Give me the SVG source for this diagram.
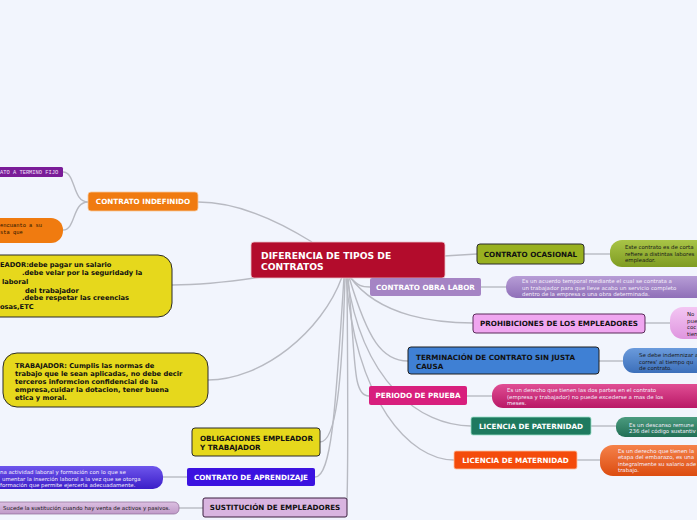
<svg xmlns="http://www.w3.org/2000/svg" width="697" height="520" viewBox="0 0 697 520">
<defs>
<linearGradient id="gGreen" x1="0" y1="0" x2="0" y2="1"><stop offset="0" stop-color="#a9c447"/><stop offset="1" stop-color="#7f9c22"/></linearGradient>
<linearGradient id="gLav" x1="0" y1="0" x2="0" y2="1"><stop offset="0" stop-color="#b79dd6"/><stop offset="1" stop-color="#8f6fb8"/></linearGradient>
<linearGradient id="gPink" x1="0" y1="0" x2="0" y2="1"><stop offset="0" stop-color="#f3c6f3"/><stop offset="1" stop-color="#df95df"/></linearGradient>
<linearGradient id="gBlue" x1="0" y1="0" x2="0" y2="1"><stop offset="0" stop-color="#6b9bdc"/><stop offset="1" stop-color="#3c6fba"/></linearGradient>
<linearGradient id="gMag" x1="0" y1="0" x2="0" y2="1"><stop offset="0" stop-color="#e04e94"/><stop offset="1" stop-color="#b91866"/></linearGradient>
<linearGradient id="gTeal" x1="0" y1="0" x2="0" y2="1"><stop offset="0" stop-color="#4b9b7f"/><stop offset="1" stop-color="#226f55"/></linearGradient>
<linearGradient id="gOr" x1="0" y1="0" x2="0" y2="1"><stop offset="0" stop-color="#f5824a"/><stop offset="1" stop-color="#dc4c10"/></linearGradient>
<linearGradient id="gVio" x1="0" y1="0" x2="0" y2="1"><stop offset="0" stop-color="#6e56ec"/><stop offset="1" stop-color="#3b1dc8"/></linearGradient>
<linearGradient id="gLil" x1="0" y1="0" x2="0" y2="1"><stop offset="0" stop-color="#dcc0e2"/><stop offset="1" stop-color="#c09ac8"/></linearGradient>
</defs>
<style>
.conn path{fill:none;stroke:#b8bac2;stroke-width:1.4}
.t{font-family:"DejaVu Sans",Verdana,sans-serif;font-weight:bold;font-size:7.2px}
.tw{fill:#ffffff}
.tb{fill:#111111}
.d{font-family:"DejaVu Sans",Verdana,sans-serif;font-size:5.45px}
.dl{fill:#f4eefa}
.dd{fill:#1a1a1a}
.y{font-family:"DejaVu Sans",Verdana,sans-serif;font-weight:bold;font-size:6.7px;fill:#111}
.m{font-family:"Liberation Mono","DejaVu Sans Mono",monospace;font-size:5.4px}
</style>
<rect x="0" y="0" width="697" height="520" fill="#f2f5fd"/>

<g id="connectors" class="conn">
<path d="M444,256 L477,254"/>
<path d="M350,277 C358,286 362,287 370,287"/>
<path d="M350,277 C380,318 440,323 473,323"/>
<path d="M349,277 C368,340 382,361 408,361"/>
<path d="M348,277 C356,360 352,396 369,396"/>
<path d="M347,277 C362,382 420,426 471,426"/>
<path d="M346,277 C356,402 410,460 454,460"/>
<path d="M345,277 C342,385 336,442 320,442"/>
<path d="M344,277 C336,402 332,477 315,477"/>
<path d="M347,277 C348,400 348,470 347,500"/>
<path d="M342,277 C322,332 262,380 208,380"/>
<path d="M268,276 C230,282 200,285 172,285"/>
<path d="M312,242 C280,222 240,202 198,202"/>
<path d="M88,202 C72,202 76,172 63,172"/>
<path d="M88,202 C72,202 76,230 63,230"/>
<path d="M583,254 L610,254"/>
<path d="M481,287 L506,287"/>
<path d="M645,323 L670,323"/>
<path d="M599,361 L623,361"/>
<path d="M467,396 L492,396"/>
<path d="M591,426 L616,426"/>
<path d="M577,460 L600,460"/>
<path d="M163,477 L187,477"/>
<path d="M179,508 L203,508"/>
</g>

<g id="central">
<rect x="251" y="242" width="194" height="36" rx="3" fill="#b30c2c" stroke="#e8c0c8" stroke-width="0.8"/>
<text x="261" y="258.5" font-family="DejaVu Sans,Verdana,sans-serif" font-weight="bold" font-size="9.2" fill="#fff">DIFERENCIA DE TIPOS DE</text>
<text x="261" y="269.5" font-family="DejaVu Sans,Verdana,sans-serif" font-weight="bold" font-size="9.2" fill="#fff">CONTRATOS</text>
</g>

<g id="contrato-indefinido">
<rect x="88" y="192" width="110" height="19" rx="3" fill="#f07b10" stroke="#f8c89a" stroke-width="0.8"/>
<text class="t tw" x="143" y="204" text-anchor="middle">CONTRATO INDEFINIDO</text>
</g>
<g id="termino-fijo">
<rect x="-6" y="167" width="69" height="10" rx="1.5" fill="#7a1c98"/>
<text class="m" x="0" y="174" fill="#f0e0f8">ATO A TERMINO FIJO</text>
</g>
<g id="indefinido-desc">
<rect x="-20" y="218" width="83" height="25" rx="12" fill="#f07b10"/>
<text class="m" x="0" y="227" fill="#2a1500">encuanto a su</text>
<text class="m" x="0" y="234" fill="#2a1500">sta que</text>
</g>

<g id="obligacion-empleador">
<rect x="-20" y="255" width="192" height="62" rx="14" fill="#e6d81c" stroke="#2a2a2a" stroke-width="1"/>
<text class="y" x="0" y="267">EADOR:debe pagar un salario</text>
<text class="y" x="22" y="275">.debe velar por la seguridady la</text>
<text class="y" x="2" y="283.5">laboral</text>
<text class="y" x="25" y="292.5">del trabajador</text>
<text class="y" x="22" y="300">.debe respetar las creencias</text>
<text class="y" x="0" y="308.5">osas,ETC</text>
</g>

<g id="obligacion-trabajador">
<rect x="3" y="353" width="205" height="54" rx="14" fill="#e6d81c" stroke="#2a2a2a" stroke-width="1"/>
<text class="y" x="15" y="367.5">TRABAJADOR: Cumplis las normas de</text>
<text class="y" x="15" y="375.5">trabajo que le sean aplicadas, no debe decir</text>
<text class="y" x="15" y="383.5">terceros informcion confidencial de la</text>
<text class="y" x="15" y="392">empresa,cuidar la dotacion, tener buena</text>
<text class="y" x="15" y="400">etica y moral.</text>
</g>

<g id="obligaciones">
<rect x="192" y="428" width="128" height="28" rx="3" fill="#e6d81c" stroke="#2a2a2a" stroke-width="1"/>
<text class="t tb" x="200" y="441">OBLIGACIONES EMPLEADOR</text>
<text class="t tb" x="200" y="450"> Y TRABAJADOR</text>
</g>

<g id="contrato-aprendizaje">
<rect x="187" y="468" width="128" height="18" rx="2" fill="#3b12e0"/>
<text class="t tw" x="251" y="479.6" text-anchor="middle">CONTRATO DE APRENDIZAJE</text>
</g>
<g id="aprendizaje-desc">
<rect x="-20" y="466" width="183" height="23" rx="10" fill="url(#gVio)"/>
<text class="d dl" x="0" y="474">na actividad laboral y formación con lo que se</text>
<text class="d dl" x="2" y="480.5">umentar la inserción laboral a la vez que se otorga</text>
<text class="d dl" x="0" y="487">formación que permite ejercerla adecuadamente.</text>
</g>

<g id="sustitucion">
<rect x="203" y="498" width="144" height="19" rx="2" fill="#d9b5e0" stroke="#3a1f3e" stroke-width="1"/>
<text class="t tb" x="275" y="510" text-anchor="middle">SUSTITUCIÓN DE EMPLEADORES</text>
</g>
<g id="sustitucion-desc">
<rect x="-10" y="502" width="189" height="12" rx="5" fill="url(#gLil)" stroke="#8e6a96" stroke-width="0.7"/>
<text class="d dd" x="3" y="510">Sucede la sustitución cuando hay venta de activos y pasivos.</text>
</g>

<g id="contrato-ocasional">
<rect x="477" y="244" width="107" height="20" rx="3" fill="#99b120" stroke="#2a2a2a" stroke-width="1"/>
<text class="t tb" x="530.5" y="256.6" text-anchor="middle">CONTRATO OCASIONAL</text>
</g>
<g id="ocasional-desc">
<rect x="610" y="240" width="100" height="27" rx="12" fill="url(#gGreen)"/>
<text class="d dd" x="625" y="249">Este contrato es de corta</text>
<text class="d dd" x="625" y="255.5">refiere a distintas labores</text>
<text class="d dd" x="625" y="262">empleador.</text>
</g>

<g id="contrato-obra-labor">
<rect x="370" y="278" width="111" height="18" rx="2" fill="#a584c4"/>
<text class="t tw" x="425.5" y="289.6" text-anchor="middle">CONTRATO OBRA LABOR</text>
</g>
<g id="obra-labor-desc">
<rect x="506" y="276" width="200" height="22" rx="10" fill="url(#gLav)"/>
<text class="d dl" x="522" y="283">Es un acuerdo temporal mediante el cual se contrata a</text>
<text class="d dl" x="522" y="289.5">un trabajador para que lleve acabo un servicio completo</text>
<text class="d dl" x="522" y="296">dentro de la empresa o una obra determinada.</text>
</g>

<g id="prohibiciones">
<rect x="473" y="314" width="172" height="19" rx="3" fill="#f0a6f0" stroke="#5a2a5a" stroke-width="1"/>
<text class="t tb" x="559" y="326" text-anchor="middle">PROHIBICIONES DE LOS EMPLEADORES</text>
</g>
<g id="prohibiciones-desc">
<rect x="670" y="307" width="40" height="32" rx="13" fill="url(#gPink)"/>
<text class="d dd" x="687" y="316">No</text>
<text class="d dd" x="687" y="322.5">pue</text>
<text class="d dd" x="687" y="329">coc</text>
<text class="d dd" x="687" y="335.5">tien</text>
</g>

<g id="terminacion">
<rect x="408" y="347" width="191" height="27" rx="3" fill="#3f80d4" stroke="#1e1e1e" stroke-width="1"/>
<text class="t tb" x="416" y="359.6">TERMINACIÓN DE CONTRATO SIN JUSTA</text>
<text class="t tb" x="416" y="368.6">CAUSA</text>
</g>
<g id="terminacion-desc">
<rect x="623" y="348" width="90" height="25" rx="11" fill="url(#gBlue)"/>
<text class="d dd" x="639" y="357">Se debe indemnizar a</text>
<text class="d dd" x="639" y="363.5">corres' al tiempo qu</text>
<text class="d dd" x="639" y="370">de contrato.</text>
</g>

<g id="periodo-prueba">
<rect x="369" y="386" width="98" height="19" rx="2" fill="#d81f7d"/>
<text class="t tw" x="418" y="398.2" text-anchor="middle">PERIODO DE PRUEBA</text>
</g>
<g id="periodo-desc">
<rect x="492" y="384" width="215" height="24" rx="11" fill="url(#gMag)"/>
<text class="d dl" x="507" y="392">Es un derecho que tienen las dos partes en el contrato</text>
<text class="d dl" x="507" y="398.5">(empresa y trabajador) no puede excederse a mas de los</text>
<text class="d dl" x="507" y="405">meses.</text>
</g>

<g id="licencia-paternidad">
<rect x="471" y="417" width="120" height="18" rx="2" fill="#1e7a5f" stroke="#9be0c8" stroke-width="0.8"/>
<text class="t tw" x="531" y="428.6" text-anchor="middle">LICENCIA DE PATERNIDAD</text>
</g>
<g id="paternidad-desc">
<rect x="616" y="417" width="95" height="20" rx="9" fill="url(#gTeal)"/>
<text class="d dl" x="629" y="426.5">Es un  descanso remune</text>
<text class="d dl" x="629" y="433">236 del código sustantiv</text>
</g>

<g id="licencia-maternidad">
<rect x="454" y="451" width="123" height="18" rx="2" fill="#f44b0b" stroke="#ffc0a0" stroke-width="0.8"/>
<text class="t tw" x="515.5" y="462.6" text-anchor="middle">LICENCIA DE MATERNIDAD</text>
</g>
<g id="maternidad-desc">
<rect x="600" y="445" width="110" height="31" rx="13" fill="url(#gOr)"/>
<text class="d dl" x="618" y="452.5">Es un derecho que tienen la</text>
<text class="d dl" x="618" y="459">etapa del embarazo, es una</text>
<text class="d dl" x="618" y="465.5">integralmente su salario ade</text>
<text class="d dl" x="618" y="472">trabajo.</text>
</g>
</svg>
